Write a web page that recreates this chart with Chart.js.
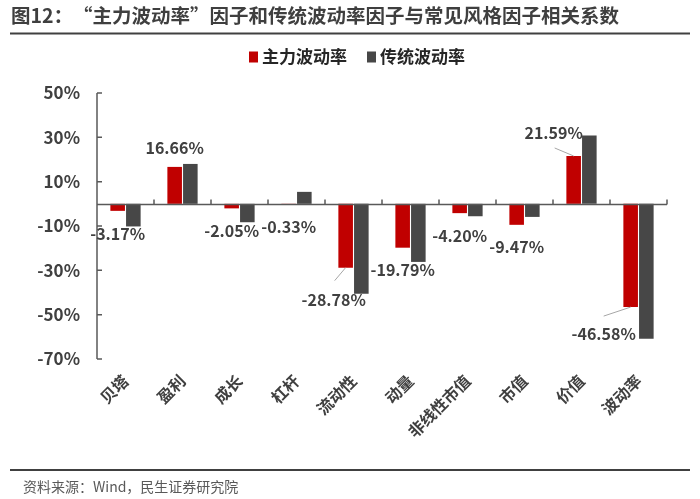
<!DOCTYPE html>
<html>
<head>
<meta charset="utf-8">
<script src="https://cdn.jsdelivr.net/npm/chart.js@4.4.1/dist/chart.umd.min.js"></script>
<style>
  html, body { margin: 0; padding: 0; background: #fff; }
  #wrap { width: 700px; height: 499px; }
</style>
</head>
<body>
<div id="wrap"><canvas id="chart" width="700" height="499"></canvas></div>
<script>
const categories = ['贝塔', '盈利', '成长', '杠杆', '流动性', '动量', '非线性市值', '市值', '价值', '波动率'];
const mainVol = [-3.17, 16.66, -2.05, -0.33, -28.78, -19.79, -4.20, -9.47, 21.59, -46.58];
const tradVol = [-10.2, 18.0, -8.3, 5.4, -40.6, -26.2, -5.6, -5.9, 30.8, -60.9];
const seriesNames = ['主力波动率', '传统波动率'];
const yTicks = [50, 30, 10, -10, -30, -50, -70];

const FONT = '"Noto Sans CJK SC", "Noto Sans", sans-serif';
const AXIS = '#595959';

// where each red value label sits relative to its bar end (dx, dy), with optional leader line
const labelSpots = [
    { dx: 0, dy: 23 }, { dx: 0, dy: -19 }, { dx: 0, dy: 23 }, { dx: 0, dy: 22 },
    { dx: -12, dy: 32, lead: [-11, 13] },
    { dx: 0, dy: 22 }, { dx: 0, dy: 23 }, { dx: 0, dy: 22 },
    { dx: -20, dy: -23, lead: [-19, -8] },
    { dx: -27, dy: 27, lead: [-27, 9] }
];

const framePlugin = {
    id: 'frame',
    beforeDraw(chart) {
        const ctx = chart.ctx;
        ctx.save();
        ctx.fillStyle = '#3f3f3f';
        ctx.font = 'bold 19.5px ' + FONT;
        ctx.textBaseline = 'middle';
        ctx.fillText('图12：“主力波动率”因子和传统波动率因子与常见风格因子相关系数', 11, 16);
        ctx.strokeStyle = '#404040';
        ctx.lineWidth = 2;
        ctx.beginPath();
        ctx.moveTo(10, 33.5);
        ctx.lineTo(690, 33.5);
        ctx.moveTo(10, 470);
        ctx.lineTo(690, 470);
        ctx.stroke();
        ctx.font = '14px ' + FONT;
        ctx.fillStyle = '#595959';
        ctx.fillText('资料来源：Wind，民生证券研究院', 23, 487);

        // legend from the datasets
        ctx.font = 'bold 17px ' + FONT;
        const sets = chart.data.datasets;
        const gapBox = 4, gapItem = 20, box = 9;
        const widths = sets.map(d => box + gapBox + ctx.measureText(d.label).width);
        const total = widths.reduce((a, b) => a + b, 0) + gapItem * (sets.length - 1);
        let lx = 357 - total / 2;
        const ly = 57;
        sets.forEach((d, i) => {
            ctx.fillStyle = d.backgroundColor;
            ctx.fillRect(lx, ly - 5.5, box, 11);
            ctx.fillStyle = '#262626';
            ctx.fillText(d.label, lx + box + gapBox, ly);
            lx += widths[i] + gapItem;
        });
        ctx.restore();
    },
    afterDatasetsDraw(chart) {
        const ctx = chart.ctx;
        const x = chart.scales.x, y = chart.scales.y;
        const zero = Math.round(y.getPixelForValue(0)) + 0.5;
        ctx.save();
        ctx.strokeStyle = AXIS;
        ctx.lineWidth = 1.5;
        ctx.beginPath();
        // y axis + inner ticks
        ctx.moveTo(x.left, y.top);
        ctx.lineTo(x.left, y.bottom);
        y.ticks.forEach(t => {
            const py = y.getPixelForValue(t.value);
            ctx.moveTo(x.left, py);
            ctx.lineTo(x.left + 5, py);
        });
        // zero line with category boundary ticks
        ctx.moveTo(x.left, zero);
        ctx.lineTo(x.right, zero);
        const step = (x.right - x.left) / categories.length;
        for (let i = 1; i <= categories.length; i++) {
            const px = x.left + i * step;
            ctx.moveTo(px, zero);
            ctx.lineTo(px, zero - 5);
        }
        ctx.stroke();

        // value labels for the red series
        const meta = chart.getDatasetMeta(0);
        ctx.font = 'bold 16px ' + FONT;
        ctx.fillStyle = '#404040';
        ctx.textAlign = 'center';
        ctx.textBaseline = 'middle';
        meta.data.forEach((bar, i) => {
            const s = labelSpots[i];
            if (s.lead) {
                ctx.strokeStyle = '#a6a6a6';
                ctx.lineWidth = 1;
                ctx.beginPath();
                ctx.moveTo(bar.x, bar.y);
                ctx.lineTo(bar.x + s.lead[0], bar.y + s.lead[1]);
                ctx.stroke();
            }
            ctx.fillText(mainVol[i].toFixed(2) + '%', bar.x + s.dx, bar.y + s.dy);
        });
        ctx.restore();
    }
};

new Chart(document.getElementById('chart').getContext('2d'), {
    type: 'bar',
    data: {
        labels: categories,
        datasets: [{
            label: seriesNames[0],
            data: mainVol,
            backgroundColor: '#c00000',
            categoryPercentage: 0.55,
            barPercentage: 0.93
        }, {
            label: seriesNames[1],
            data: tradVol,
            backgroundColor: '#474747',
            categoryPercentage: 0.55,
            barPercentage: 0.93
        }]
    },
    options: {
        responsive: false,
        animation: false,
        devicePixelRatio: 1,
        layout: {
            padding: { left: 0, right: 33, top: 93, bottom: 0 }
        },
        plugins: {
            legend: { display: false },
            tooltip: { enabled: false }
        },
        scales: {
            x: {
                grid: { display: false },
                border: { display: false },
                ticks: {
                    color: '#404040',
                    font: { family: FONT, size: 16, weight: 'bold' },
                    minRotation: 45,
                    maxRotation: 45,
                    padding: 4
                },
                afterFit: s => { s.height = 140; }
            },
            y: {
                min: -70,
                max: 50,
                afterBuildTicks: s => { s.ticks = yTicks.map(v => ({ value: v })); },
                grid: { display: false },
                border: { display: false },
                ticks: {
                    color: '#404040',
                    font: { family: FONT, size: 17, weight: 'bold' },
                    padding: 9,
                    callback: v => v + '%'
                },
                afterFit: s => { s.width = 97; }
            }
        }
    },
    plugins: [framePlugin]
});
</script>
</body>
</html>
